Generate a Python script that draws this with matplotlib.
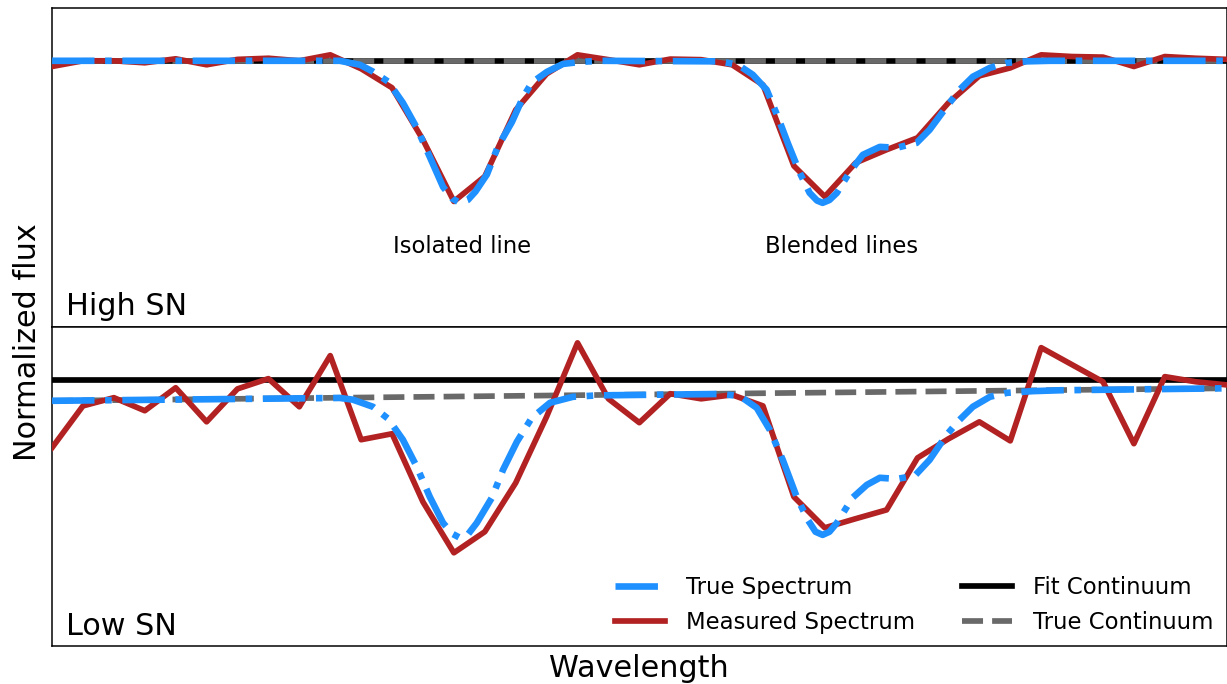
import numpy as np
import matplotlib
matplotlib.use("Agg")
import matplotlib.pyplot as plt

# measured pixels (wavelength in pixel units)
pix = np.arange(39)

meas_high = [0.980, 1.000, 1.000, 0.993, 1.007, 0.986, 1.005, 1.009, 1.000, 1.021,
             0.972, 0.905, 0.722, 0.505, 0.593, 0.827, 0.954, 1.021, 1.004, 0.986,
             1.006, 1.004, 0.986, 0.915, 0.630, 0.522, 0.641, 0.687, 0.729, 0.852,
             0.947, 0.975, 1.021, 1.015, 1.013, 0.980, 1.015, 1.009, 1.005]

meas_low = [0.761, 0.908, 0.937, 0.891, 0.972, 0.852, 0.968, 1.004, 0.905, 1.085,
            0.789, 0.810, 0.570, 0.391, 0.465, 0.637, 0.870, 1.130, 0.933, 0.849,
            0.951, 0.933, 0.947, 0.908, 0.588, 0.479, 0.511, 0.542, 0.725, 0.792,
            0.852, 0.785, 1.113, 1.053, 0.993, 0.775, 1.011, 0.993, 0.982]

# true spectrum
true_high_x = [0.00, 9.31, 9.96, 10.38, 10.87, 11.35, 11.80, 12.22, 12.65, 12.95,
               13.19, 13.45, 13.70, 14.07, 14.42, 14.88, 15.23, 15.52, 16.01, 16.53,
               17.08, 17.72, 21.60, 22.19, 22.67, 23.12, 23.48, 23.80, 24.19, 24.51,
               24.75, 24.93, 25.15, 25.39, 25.81, 26.23, 26.78, 27.33, 27.97, 28.39,
               28.94, 29.36, 29.79, 30.34, 30.89, 31.53, 32.28, 38.00]
true_high_y = [1.000, 1.000, 0.986, 0.962, 0.927, 0.852, 0.764, 0.662, 0.556, 0.515,
               0.500, 0.510, 0.540, 0.600, 0.697, 0.785, 0.870, 0.923, 0.961, 0.989,
               0.996, 1.000, 0.998, 0.986, 0.951, 0.898, 0.803, 0.711, 0.606, 0.535,
               0.508, 0.500, 0.510, 0.535, 0.609, 0.669, 0.697, 0.694, 0.711, 0.757,
               0.838, 0.898, 0.944, 0.975, 0.993, 0.998, 1.000, 1.000]

true_low_x = [0.00, 9.31, 9.73, 10.38, 10.87, 11.35, 11.80, 12.22, 12.65, 12.95,
              13.19, 13.45, 13.74, 14.23, 14.59, 15.04, 15.52, 16.11, 16.85, 17.63,
              21.60, 22.25, 22.80, 23.22, 23.64, 24.09, 24.45, 24.70, 24.93, 25.15,
              25.39, 25.90, 26.36, 26.78, 27.33, 27.91, 28.39, 28.94, 29.36, 29.79,
              30.34, 30.89, 31.73, 32.60, 38.00]
true_low_y = [0.926, 0.936, 0.930, 0.905, 0.863, 0.789, 0.694, 0.588, 0.496, 0.458,
              0.444, 0.455, 0.496, 0.585, 0.683, 0.782, 0.866, 0.919, 0.940, 0.945,
              0.950, 0.943, 0.901, 0.824, 0.718, 0.588, 0.507, 0.465, 0.454, 0.465,
              0.496, 0.585, 0.630, 0.655, 0.651, 0.662, 0.718, 0.806, 0.859, 0.905,
              0.940, 0.954, 0.960, 0.963, 0.970]

cont_x = [0, 38]
fit_cont_high = [1.0, 1.0]
true_cont_high = [1.0, 1.0]
fit_cont_low = [1.0, 1.0]
true_cont_low = [0.926, 0.970]

fig = plt.figure(figsize=(9, 5.015), dpi=136.4)
ax1 = fig.add_axes([0.0424, 0.5219, 0.9568, 0.4664])
ax2 = fig.add_axes([0.0424, 0.0556, 0.9568, 0.4664], sharex=ax1)

panels = [
    (ax1, true_high_x, true_high_y, meas_high, fit_cont_high, true_cont_high, "High SN", 0.038),
    (ax2, true_low_x, true_low_y, meas_low, fit_cont_low, true_cont_low, "Low SN", 0.036),
]

for ax, tx, ty, meas, fitc, truec, label, ly in panels:
    ax.plot(tx, ty, color="dodgerblue", ls="-.", lw=3.5, zorder=4, label="True Spectrum")
    ax.plot(pix, meas, color="firebrick", ls="-", lw=3, zorder=3, label="Measured Spectrum")
    ax.plot(cont_x, fitc, color="black", ls="-", lw=3, zorder=1, label="Fit Continuum")
    ax.plot(cont_x, truec, color="dimgray", ls="--", lw=3, zorder=2, label="True Continuum")
    ax.text(0.012, ly, label, transform=ax.transAxes, fontsize=16, va="baseline")
    ax.set_xlim(0, 38)
    ax.set_ylim(0.063, 1.186)
    ax.set_xticks([])
    ax.set_yticks([])

ax1.text(13.26, 0.324, "Isolated line", ha="center", va="baseline", fontsize=12)
ax1.text(25.53, 0.324, "Blended lines", ha="center", va="baseline", fontsize=12)

ax2.legend(loc="lower right", bbox_to_anchor=(1.006, -0.026), ncol=2,
           frameon=False, fontsize=12, handlelength=2.2, handletextpad=0.9,
           columnspacing=2.1)
ax2.set_xlabel("Wavelength", fontsize=16)
fig.text(0.022, 0.5, "Normalized flux", rotation=90, ha="center", va="center", fontsize=16)

fig.savefig("out.png", dpi=136.4)
